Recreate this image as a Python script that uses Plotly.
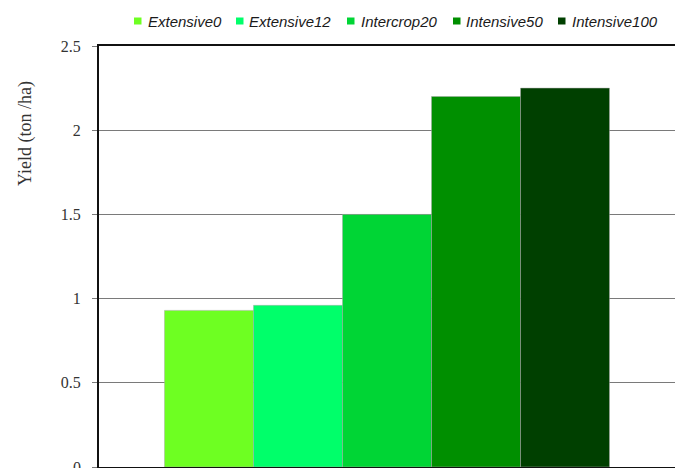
import plotly.graph_objects as go

# ---- data ----
series_names = ["Extensive0", "Extensive12", "Intercrop20", "Intensive50", "Intensive100"]
yield_values = [0.93, 0.96, 1.5, 2.2, 2.25]
y_ticks = [0, 0.5, 1, 1.5, 2, 2.5]
y_tick_labels = ["0", "0.5", "1", "1.5", "2", "2.5"]

# ---- styles ----
colors = ["#6EFF22", "#00FF6A", "#00D535", "#008F00", "#004000"]
W, H = 675, 468
ML, MR, MT, MB = 99, 0, 46, 1
PW, PH = W - ML - MR, H - MT - MB
serif = "Liberation Serif, Times New Roman, serif"

def px_x(p):
    return (p - ML) / PW

def px_y(p):
    return (H - MB - p) / PH

legend_square_px = [134, 236, 347, 453, 558]
legend_text_px = [145.5, 247, 359, 464, 570]
legend_y_px = 21

fig = go.Figure()
for name, val, col in zip(series_names, yield_values, colors):
    fig.add_trace(go.Bar(
        x=[0], y=[val], name=name,
        marker=dict(color=col, line=dict(color="#a8a8a8", width=0.5)),
        showlegend=False,
    ))

shapes = []
annotations = []
for name, col, sx, tx in zip(series_names, colors, legend_square_px, legend_text_px):
    shapes.append(dict(
        type="rect", xref="paper", yref="paper",
        x0=px_x(sx), x1=px_x(sx + 7.5),
        y0=px_y(legend_y_px + 3.5), y1=px_y(legend_y_px - 3.5),
        fillcolor=col, line=dict(width=0),
    ))
    annotations.append(dict(
        text=f"<i>{name}</i>", xref="paper", yref="paper",
        x=px_x(tx), y=px_y(legend_y_px), xanchor="left", yanchor="middle",
        showarrow=False,
        font=dict(family="Liberation Sans, Arial, sans-serif", size=15, color="#1a1a1a"),
    ))

annotations.append(dict(
    text="Yield (ton /ha)", xref="paper", yref="paper",
    x=px_x(25), y=px_y(134), xanchor="center", yanchor="middle",
    textangle=-90, showarrow=False,
    font=dict(family=serif, size=18, color="#333333"),
))

# the lowest tick label sits on the cut-off bottom edge; draw it explicitly
annotations.append(dict(
    text=y_tick_labels[0], xref="paper", yref="y",
    x=px_x(83), y=y_ticks[0], xanchor="right", yanchor="middle",
    showarrow=False, font=dict(family=serif, size=16, color="#333333"),
))

fig.update_layout(
    width=W, height=H,
    margin=dict(l=ML, r=MR, t=MT, b=MB, pad=0),
    paper_bgcolor="white", plot_bgcolor="white",
    barmode="group", bargap=0.2274, bargroupgap=0,
    shapes=shapes, annotations=annotations,
    showlegend=False,
    xaxis=dict(
        range=[-0.5, 0.5], showticklabels=False, ticks="",
        showgrid=False, zeroline=False,
        showline=True, linecolor="#111111", linewidth=2, mirror=True,
    ),
    yaxis=dict(
        range=[0, 2.5], tickvals=y_ticks, ticktext=y_tick_labels,
        showgrid=True, gridcolor="#7a7a7a", gridwidth=1,
        zeroline=False,
        showline=True, linecolor="#111111", linewidth=2,
        ticks="outside", ticklen=5, tickcolor="#7a7a7a", tickwidth=1,
        ticklabelstandoff=8,
        tickfont=dict(family=serif, size=16, color="#333333"),
    ),
)

fig.write_html("out.html")
